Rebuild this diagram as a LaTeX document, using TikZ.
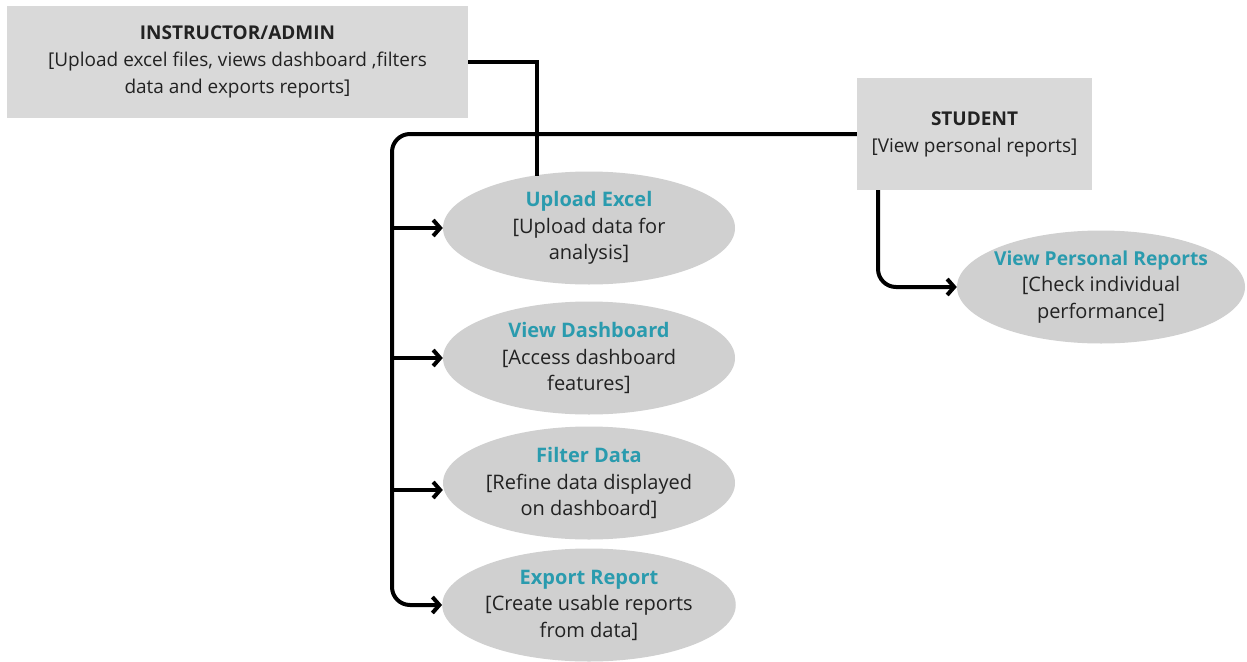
\documentclass[tikz,border=0pt]{standalone}
\usepackage{fontspec}
\setmainfont{Open Sans}
\usetikzlibrary{shapes.geometric,arrows.meta}
\definecolor{boxgray}{HTML}{D9D9D9}
\definecolor{ellgray}{HTML}{D0D0D0}
\definecolor{teal}{HTML}{2A9BAE}
\definecolor{txt}{HTML}{222222}
\tikzset{
  actor/.style={rectangle, fill=boxgray, inner sep=0pt, align=center, text=txt,
    font=\fontsize{19}{27}\selectfont},
  usecase/.style={ellipse, fill=ellgray, inner sep=0pt, minimum width=292pt, minimum height=113pt,
    align=center, text=txt, font=\fontsize{20}{26.5}\selectfont},
  conn/.style={line width=4pt, draw=black, rounded corners=18pt},
  arr/.style={conn, -{Straight Barb[length=7pt,width=16pt,line width=4pt]}},
}
\begin{document}
\begin{tikzpicture}[x=1pt,y=-1pt]
\useasboundingbox (0,0) rectangle (1247,661);
\node[actor, minimum width=461pt, minimum height=112pt] (instr) at (237.5,62)
  {\textbf{INSTRUCTOR/ADMIN}\\{}[Upload excel files, views dashboard ,filters\\data and exports reports]};
\node[actor, minimum width=235pt, minimum height=112pt] (student) at (974.5,134)
  {\textbf{STUDENT}\\{}[View personal reports]};
\node[usecase] (up) at (589,228) {\textcolor{teal}{\textbf{Upload Excel}}\\{}[Upload data for\\analysis]};
\node[usecase] (vd) at (589,358) {\textcolor{teal}{\textbf{View Dashboard}}\\{}[Access dashboard\\features]};
\node[usecase] (fd) at (589,483) {\textcolor{teal}{\textbf{Filter Data}}\\{}[Refine data displayed\\on dashboard]};
\node[usecase] (er) at (589,605) {\textcolor{teal}{\textbf{Export Report}}\\{}[Create usable reports\\from data]};
\node[usecase, minimum width=288pt, inner xsep=-14pt] (vpr) at (1101,287)
  {{\fontsize{19.2}{26.5}\selectfont\textcolor{teal}{\textbf{View Personal Reports}}}\\{}[Check individual\\performance]};
% instructor connector
\coordinate (i1) at (537,62);
\coordinate (i2) at (537,176);
\draw[line width=4pt] (instr.east) -- (i1) -- (i2);
% student bus
\coordinate (b1) at (392,134);
\coordinate (b2) at (392,605);
\draw[arr] (student.west) -- (b1) -- (b2) -- (er.west);
\coordinate (bu) at (392,228);
\coordinate (bv) at (392,358);
\coordinate (bf) at (392,490);
\draw[arr] (bu) -- (up.west);
\draw[arr] (bv) -- (vd.west);
\draw[arr] (bf) -- (bf -| fd.west);
% student to personal reports
\coordinate (s1) at (878,190);
\coordinate (s2) at (878,287);
\draw[arr] (s1) -- (s2) -- (vpr.west);
\end{tikzpicture}
\end{document}
